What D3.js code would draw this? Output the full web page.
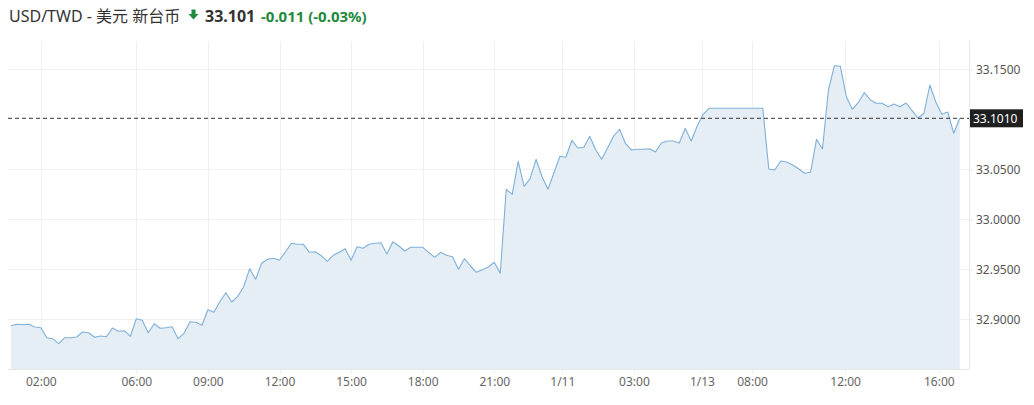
<!DOCTYPE html>
<html>
<head>
<meta charset="utf-8">
<script src="https://cdn.jsdelivr.net/npm/d3@7"></script>
<style>
  html, body { margin: 0; padding: 0; background: #fff; }
  svg { display: block; }
</style>
</head>
<body>
<svg id="chart" width="1034" height="405"></svg>
<script>
// ---- data ----
const pairLabel = "USD/TWD - 美元 新台币";
const lastPrice = 33.101;
const changeText = "-0.011 (-0.03%)";

// 15-minute samples (index 0 .. 159)
const values = [
  32.8936, 32.8950, 32.8946, 32.8950, 32.8923, 32.8916, 32.8816, 32.8806, 32.8756, 32.8816,
  32.8816, 32.8823, 32.8873, 32.8866, 32.8820, 32.8833, 32.8826, 32.8913, 32.8880, 32.8886,
  32.8830, 32.9006, 32.8990, 32.8866, 32.8956, 32.8910, 32.8916, 32.8926, 32.8806, 32.8860,
  32.8976, 32.8970, 32.8940, 32.9096, 32.9070, 32.9176, 32.9266, 32.9173, 32.9230, 32.9326,
  32.9506, 32.9400, 32.9560, 32.9600, 32.9610, 32.9590, 32.9676, 32.9760, 32.9750, 32.9750,
  32.9670, 32.9676, 32.9636, 32.9580, 32.9640, 32.9670, 32.9706, 32.9590, 32.9726, 32.9710,
  32.9750, 32.9760, 32.9766, 32.9653, 32.9776, 32.9733, 32.9683, 32.9720, 32.9720, 32.9720,
  32.9670, 32.9620, 32.9670, 32.9640, 32.9626, 32.9500, 32.9606, 32.9533, 32.9470, 32.9496,
  32.9523, 32.9570, 32.9460, 33.0300, 33.0250, 33.0580, 33.0330, 33.0406, 33.0600, 33.0426,
  33.0300, 33.0466, 33.0630, 33.0620, 33.0790, 33.0713, 33.0720, 33.0830, 33.0693, 33.0600,
  33.0716, 33.0833, 33.0900, 33.0756, 33.0693, 33.0700, 33.0700, 33.0706, 33.0673, 33.0763,
  33.0783, 33.0783, 33.0763, 33.0910, 33.0783, 33.0933, 33.1050, 33.1110, 33.1110, 33.1110,
  33.1110, 33.1110, 33.1110, 33.1110, 33.1110, 33.1110, 33.1110, 33.0503, 33.0493, 33.0583,
  33.0573, 33.0543, 33.0506, 33.0460, 33.0470, 33.0800, 33.0703, 33.1293, 33.1536, 33.1530,
  33.1226, 33.1100, 33.1166, 33.1266, 33.1196, 33.1160, 33.1160, 33.1126, 33.1153, 33.1126,
  33.1163, 33.1090, 33.1013, 33.1060, 33.1343, 33.1173, 33.1050, 33.1073, 33.0860, 33.1010
];

const xTickPos    = [5, 21, 33, 45, 57, 69, 81, 92.4, 104.4, 115.8, 124.2, 139.8, 155.5];
const xTickLabels = ["02:00", "06:00", "09:00", "12:00", "15:00", "18:00", "21:00",
                     "1/11", "03:00", "1/13", "08:00", "12:00", "16:00"];
const yTicks = [32.90, 32.95, 33.00, 33.05, 33.15];

// ---- layout ----
const svg = d3.select("#chart");
const plot = { left: 8, right: 969, top: 41, bottom: 369 };
const x = d3.scaleLinear().domain([0, values.length - 1]).range([11, 959.7]);
const y = d3.scaleLinear().domain([32.90, 33.15]).range([319.3, 69.3]);
const yBase = y.invert(plot.bottom);

const font = "'Segoe UI', 'Noto Sans', 'Noto Sans CJK SC', sans-serif";

// grid
const g = svg.append("g");
g.selectAll("line.hg").data(yTicks).join("line")
  .attr("x1", plot.left).attr("x2", plot.right)
  .attr("y1", d => Math.round(y(d)) + 0.5).attr("y2", d => Math.round(y(d)) + 0.5)
  .attr("stroke", "#f0f0f0").attr("stroke-width", 1);
g.selectAll("line.vg").data(xTickPos).join("line")
  .attr("x1", d => Math.round(x(d)) + 0.5).attr("x2", d => Math.round(x(d)) + 0.5)
  .attr("y1", plot.top).attr("y2", plot.bottom + 5)
  .attr("stroke", "#f0f0f0").attr("stroke-width", 1);

// area + line
const pts = values.map((v, i) => [i, v]);
svg.append("path").datum(pts)
  .attr("d", d3.area().x(d => x(d[0])).y0(y(yBase)).y1(d => y(d[1])))
  .attr("fill", "#e5edf5");
svg.append("path").datum(pts)
  .attr("d", d3.line().x(d => x(d[0])).y(d => y(d[1])))
  .attr("fill", "none").attr("stroke", "#7fb0d9").attr("stroke-width", 1.1)
  .attr("stroke-linejoin", "round");

// axes lines
svg.append("line").attr("x1", plot.left).attr("x2", plot.right)
  .attr("y1", plot.bottom + 0.5).attr("y2", plot.bottom + 0.5)
  .attr("stroke", "#e6e6e6");
svg.append("line").attr("x1", plot.right + 0.5).attr("x2", plot.right + 0.5)
  .attr("y1", plot.top).attr("y2", plot.bottom)
  .attr("stroke", "#e6e6e6");

// y axis (right)
const yAxis = d3.axisRight(y).tickValues(yTicks).tickFormat(d3.format(".4f"))
  .tickSize(4).tickPadding(3);
const ya = svg.append("g").attr("transform", `translate(${plot.right},0)`).call(yAxis);
ya.select(".domain").remove();
ya.selectAll(".tick line").attr("stroke", "#e6e6e6");
ya.selectAll(".tick text").attr("fill", "#555").style("font-family", font).style("font-size", "12px");

// x axis
const xAxis = d3.axisBottom(x).tickValues(xTickPos).tickFormat((d, i) => xTickLabels[i])
  .tickSize(0).tickPadding(8);
const xa = svg.append("g").attr("transform", `translate(0,${plot.bottom})`).call(xAxis);
xa.select(".domain").remove();
xa.selectAll(".tick text").attr("fill", "#666").style("font-family", font).style("font-size", "12px");

// last price dashed line + label
svg.append("line").attr("x1", plot.left).attr("x2", plot.right)
  .attr("y1", y(lastPrice)).attr("y2", y(lastPrice))
  .attr("stroke", "#333").attr("stroke-width", 1).attr("stroke-dasharray", "4,3");
svg.append("rect").attr("x", plot.right + 1).attr("y", y(lastPrice) - 9)
  .attr("width", 53).attr("height", 18).attr("fill", "#1f1f1f");
svg.append("text").attr("x", plot.right + 4).attr("y", y(lastPrice) + 4.5)
  .attr("fill", "#fff").style("font-family", font).style("font-size", "12px")
  .text(d3.format(".4f")(lastPrice));

// title
svg.append("text").attr("x", 9).attr("y", 22)
  .style("font-family", font).style("font-size", "16px")
  .attr("fill", "#333").text(pairLabel);
svg.append("path")
  .attr("d", "M191.5,9.5 h4 v4.5 h3 l-5,5.5 l-5,-5.5 h3 z")
  .attr("fill", "#1e8a3c");
svg.append("text").attr("x", 205).attr("y", 22)
  .style("font-family", font).style("font-size", "16px").style("font-weight", "bold")
  .attr("fill", "#333").text(d3.format(".3f")(lastPrice));
svg.append("text").attr("x", 261).attr("y", 22)
  .style("font-family", font).style("font-size", "15px").style("font-weight", "bold")
  .attr("fill", "#1e8a3c").text(changeText);
</script>
</body>
</html>
